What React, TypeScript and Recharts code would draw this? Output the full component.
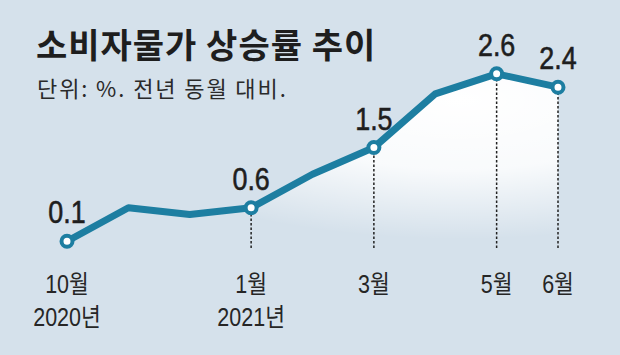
import React from 'react';
import { ComposedChart, Line, Area, XAxis, YAxis, ReferenceLine, LabelList } from 'recharts';

const months = ['2020-10', '2020-11', '2020-12', '2021-01', '2021-02', '2021-03', '2021-04', '2021-05', '2021-06'];
const rates = [0.1, 0.6, 0.5, 0.6, 1.1, 1.5, 2.3, 2.6, 2.4];
const valueLabels = ['0.1', '', '', '0.6', '', '1.5', '', '2.6', '2.4'];
const monthLabels = ['10월', '', '', '1월', '', '3월', '', '5월', '6월'];
const yearLabels = ['2020년', '', '', '2021년', '', '', '', '', ''];
const dashedAt = ['2021-01', '2021-03', '2021-05', '2021-06'];

const data = months.map((m, i) => ({ month: m, value: rates[i], label: valueLabels[i] }));

const LINE = '#1d7ea1';
const NUM_FONT = '"Liberation Sans", "Noto Sans CJK KR", sans-serif';
const KR_FONT = '"Noto Sans CJK KR", sans-serif';

const MonthTick = (props: any) => {
  const { x, y, index } = props;
  const m = monthLabels[index];
  const yr = yearLabels[index];
  if (!m && !yr) return null;
  return (
    <g transform={`translate(${x},${y}) scale(0.86,1)`}>
      {m && (
        <text x={0} y={0} dy={45} textAnchor="middle" fontSize={25} fill="#262626" fontFamily={NUM_FONT}>
          {m}
        </text>
      )}
      {yr && (
        <text x={0} y={0} dy={78} textAnchor="middle" fontSize={25} fill="#262626" fontFamily={NUM_FONT}>
          {yr}
        </text>
      )}
    </g>
  );
};

const ValueLabel = (props: any) => {
  const { x, y, value } = props;
  if (!value) return null;
  return (
    <g transform={`translate(${x},${y - 18}) scale(0.84,1)`}>
      <text
        x={0}
        y={0}
        textAnchor="middle"
        fontSize={32}
        fill="#1e1e1e"
        stroke="#1e1e1e"
        strokeWidth={0.6}
        fontFamily={NUM_FONT}
      >
        {value}
      </text>
    </g>
  );
};

const Dot = (props: any) => {
  const { cx, cy, index } = props;
  if (!valueLabels[index]) return <g key={index} />;
  return <circle key={index} cx={cx} cy={cy} r={5.5} fill="#fff" stroke={LINE} strokeWidth={4} />;
};

export default function App() {
  return (
    <div
      style={{
        position: 'relative',
        width: 620,
        height: 355,
        background: '#d5e1eb',
        overflow: 'hidden',
      }}
    >
      <style>{`body{margin:0}`}</style>
      <div
        style={{
          position: 'absolute',
          left: 36,
          top: 26,
          fontFamily: KR_FONT,
          fontSize: 34,
          fontWeight: 700,
          lineHeight: '36px',
          letterSpacing: 1,
          color: '#1e1e1e',
          whiteSpace: 'nowrap',
        }}
      >
        소비자물가 상승률 추이
      </div>
      <div
        style={{
          position: 'absolute',
          left: 37,
          top: 74,
          fontFamily: KR_FONT,
          fontSize: 22,
          lineHeight: '26px',
          letterSpacing: 1.9,
          color: '#2a2a2a',
          whiteSpace: 'nowrap',
        }}
      >
        단위: %. 전년 동월 대비.
      </div>
      <ComposedChart
        width={620}
        height={355}
        data={data}
        margin={{ top: 47, right: 62, left: 67, bottom: 0 }}
        style={{ position: 'absolute', left: 0, top: 0 }}
      >
        <defs>
          <radialGradient id="glow" cx="0.8" cy="0.15" r="0.8">
            <stop offset="0%" stopColor="#ffffff" stopOpacity={1} />
            <stop offset="50%" stopColor="#ffffff" stopOpacity={0.85} />
            <stop offset="100%" stopColor="#ffffff" stopOpacity={0} />
          </radialGradient>
        </defs>
        <XAxis
          dataKey="month"
          height={107}
          axisLine={false}
          tickLine={false}
          tickSize={0}
          tickMargin={0}
          interval={0}
          tick={<MonthTick />}
        />
        <YAxis hide domain={[0, 3]} />
        <Area dataKey="value" stroke="none" fill="url(#glow)" fillOpacity={1} isAnimationActive={false} />
        {dashedAt.map((m) => (
          <ReferenceLine
            key={m}
            segment={[
              { x: m, y: 0 },
              { x: m, y: rates[months.indexOf(m)] },
            ]}
            ifOverflow="visible"
            stroke="#222"
            strokeWidth={1.5}
            strokeDasharray="2.5 2"
          />
        ))}
        <Line
          dataKey="value"
          stroke={LINE}
          strokeWidth={7}
          strokeLinejoin="round"
          dot={<Dot />}
          activeDot={false}
          isAnimationActive={false}
        >
          <LabelList dataKey="label" content={<ValueLabel />} />
        </Line>
      </ComposedChart>
    </div>
  );
}
